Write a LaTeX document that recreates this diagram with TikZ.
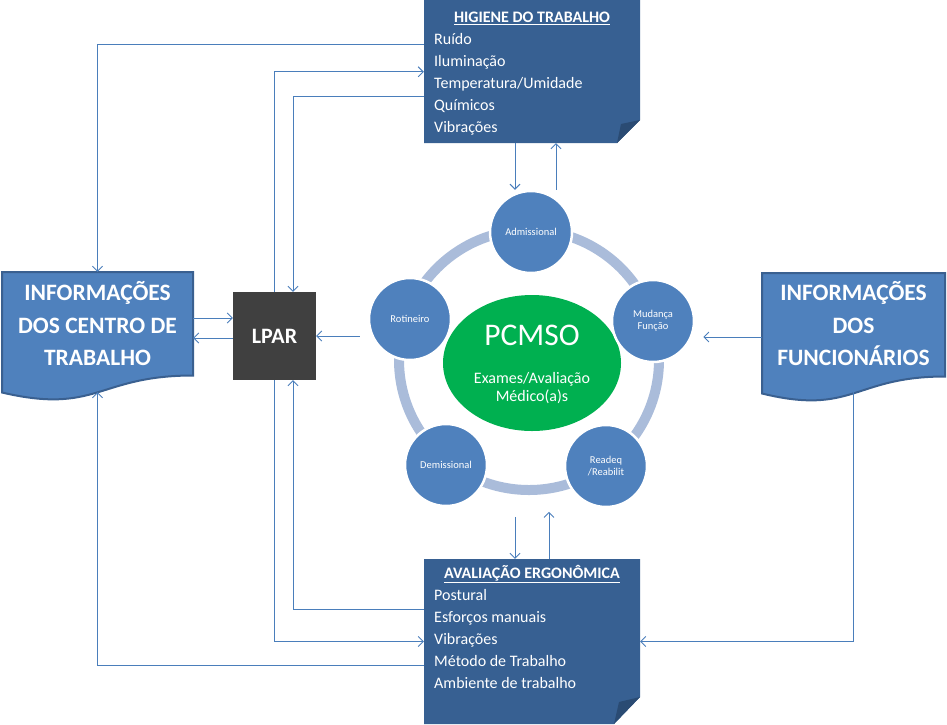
\documentclass[tikz,border=0pt]{standalone}
\usepackage{fontspec}
\setmainfont{Carlito}
\usetikzlibrary{arrows.meta,shapes.geometric}

\definecolor{boxblue}{HTML}{376092}
\definecolor{folddark}{HTML}{2A4B73}
\definecolor{docblue}{HTML}{4F81BD}
\definecolor{docedge}{HTML}{3A6090}
\definecolor{lpargray}{HTML}{404040}
\definecolor{pcmsogreen}{HTML}{00B050}
\definecolor{ringblue}{HTML}{AABCDA}
\definecolor{flowblue}{HTML}{4A7EBB}

\begin{document}
\begin{tikzpicture}[x=1pt,y=-1pt,
    flow/.style={draw=flowblue, line width=0.9pt, -{Straight Barb[length=5pt,width=10pt]}},
    exam/.style={circle, fill=docblue, draw=white, line width=2.5pt, minimum size=82pt, inner sep=0pt,
      align=center, text=white, font=\fontsize{10.5}{12}\selectfont},
    panel/.style={rectangle, inner sep=0pt, minimum width=216pt},
    docbox/.style={rectangle, inner sep=0pt, minimum height=120pt},
    paneltitle/.style={anchor=base, inner sep=0pt, text=white, font=\bfseries\fontsize{16}{18}\selectfont},
    listitem/.style={anchor=base west, inner sep=0pt, text=white, font=\fontsize{16}{18}\selectfont},
    doctext/.style={align=center, text=white, font=\bfseries\fontsize{23.5}{32.5}\selectfont}]
        \useasboundingbox (0,0) rectangle (947,724);
        % panels with folded corner
        \fill [boxblue] (424,0) -- (640,0) -- (640,120) -- (617,143) -- (424,143) -- cycle;
        \fill [folddark] (617,143) -- (621,124) -- (640,120) -- cycle;
        \fill [boxblue] (424,559) -- (640,559) -- (640,697) -- (614,724) -- (424,724) -- cycle;
        \fill [folddark] (614,724) -- (619,702) -- (640,697) -- cycle;
        \node [panel, minimum height=143pt] (higiene) at (532,71.5) {};
        \node [panel, minimum height=165pt] (aval) at (532,641.5) {};
        \node [paneltitle] (higiene-title) at (532,22.5) {\underline{HIGIENE DO TRABALHO}};
        \foreach \t [count=\i] in {Ruído, Iluminação, Temperatura/Umidade, Químicos, Vibrações}
            \node [listitem] (higiene-\i) at (434,22+22*\i) {\t};
        \node [paneltitle] (aval-title) at (532,578) {\underline{AVALIAÇÃO ERGONÔMICA}};
        \foreach \t [count=\i] in {Postural, Esforços manuais, Vibrações, Método de Trabalho, Ambiente de trabalho}
            \node [listitem] (aval-\i) at (434,578+22*\i) {\t};
        % document shapes
        \draw [fill=docblue, draw=docedge, line width=2pt] (2,272) -- (193,272) -- (193,375.5)
            .. controls (97.5,375.5) and (97.5,414.8) .. (2,392.5) -- cycle;
        \draw [fill=docblue, draw=docedge, line width=2pt] (762,273) -- (945,273) -- (945,376.5)
            .. controls (853.5,376.5) and (853.5,415.8) .. (762,393.5) -- cycle;
        \node [docbox, minimum width=191pt] (infocentro) at (97.5,332) {};
        \node [docbox, minimum width=183pt] (infofunc) at (853.5,332) {};
        \node [doctext] (infocentro-txt) at (97.5,324) {INFORMAÇÕES\\DOS CENTRO DE\\TRABALHO};
        \node [doctext] (infofunc-txt) at (853.5,324) {INFORMAÇÕES\\DOS\\FUNCIONÁRIOS};
        \node [fill=lpargray, minimum width=83pt, minimum height=88pt, text=white,
            font=\bfseries\fontsize{22}{24}\selectfont] (lpar) at (274.5,336) {LPAR};
        % exam cycle
        \draw [ringblue, line width=10pt] (529,360) circle (130);
        \node [ellipse, fill=pcmsogreen, minimum width=178pt, minimum height=136pt] (pcmso) at (532,363) {};
        \node [anchor=base, text=white, font=\fontsize{31.5}{32}\selectfont] (pcmso-title) at (532,345.5) {PCMSO};
        \node [align=center, text=white, font=\fontsize{16}{18}\selectfont] (pcmso-sub) at (532,388) {Exames/Avaliação\\Médico(a)s};
        \node [exam] (admissional) at (531,232) {Admissional};
        \node [exam] (mudanca) at (653,321) {Mudança\\Função};
        \node [exam] (readeq) at (606,466) {Readeq\\/Reabilit};
        \node [exam] (demissional) at (446,465) {Demissional};
        \node [exam] (rotineiro) at (410,319) {Rotineiro};
        % connectors
        \draw [flow] ([yshift=-45pt]higiene.north west) -| (infocentro.north);
        \draw [flow] (lpar.north) |- ([yshift=-72pt]higiene.north west);
        \draw [flow] ([yshift=-97pt]higiene.north west) -| ([xshift=18.5pt]lpar.north);
        \draw [flow] ([xshift=-17pt]higiene.south) -- ([xshift=-17pt]higiene.south |- admissional.north);
        \draw [flow] ([xshift=24pt]higiene.south |- admissional.north) -- ([xshift=24pt]higiene.south);
        \draw [flow] ([yshift=18pt]lpar.west -| infocentro.east) -- ([yshift=18pt]lpar.west);
        \draw [flow] ([yshift=-2pt]lpar.west) -- ([yshift=-2pt]lpar.west -| infocentro.east);
        \draw [flow, shorten <=8pt] (lpar.east -| rotineiro.west) -- (lpar.east);
        \draw [flow, shorten >=8pt] ([yshift=-5pt]infofunc.west) -- ([yshift=-5pt]infofunc.west -| mudanca.east);
        \draw [flow] (infofunc.south) |- (aval.east);
        \draw [flow] ([yshift=-51pt]aval.north west) -| ([xshift=18.5pt]lpar.south);
        \draw [flow] (lpar.south) |- (aval.west);
        \draw [flow] ([yshift=-107pt]aval.north west) -| (infocentro.south);
        \draw [flow] ([xshift=-17pt,yshift=42pt]aval.north) -- ([xshift=-17pt]aval.north);
        \draw [flow] ([xshift=17pt]aval.north) -- ([xshift=17pt,yshift=47pt]aval.north);
\end{tikzpicture}
\end{document}
